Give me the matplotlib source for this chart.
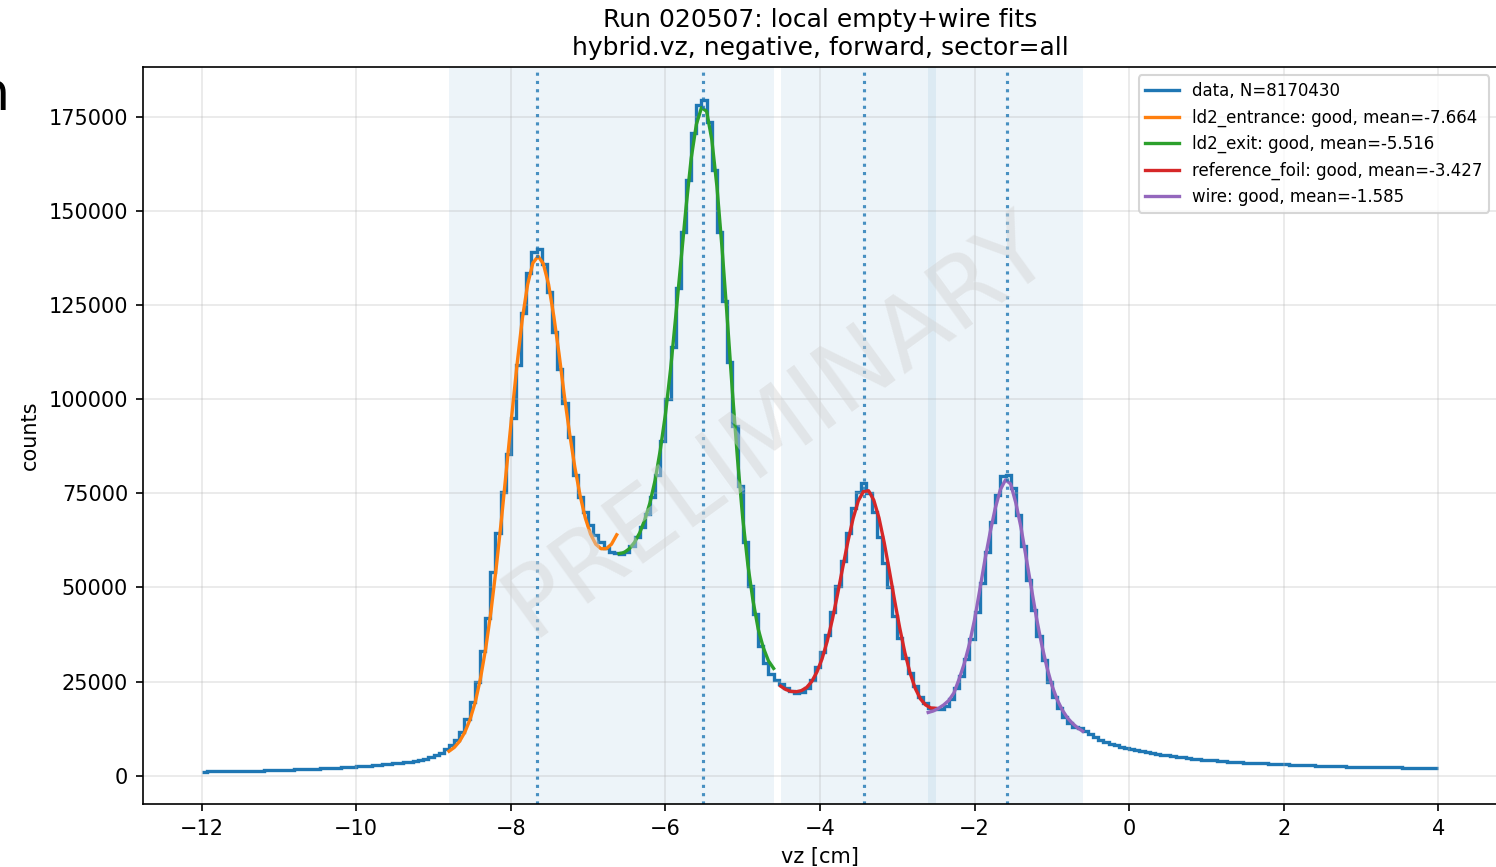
import numpy as np
import matplotlib
matplotlib.use("Agg")
import matplotlib.pyplot as plt

# histogram of hybrid.vz, 240 bins from -12 to 4 cm
vz_lo, vz_hi, n_bins = -12.0, 4.0, 240
counts = [
    1100, 1120, 1140, 1160, 1180, 1200, 1230, 1250, 1280, 1310,
    1340, 1370, 1400, 1440, 1480, 1520, 1570, 1620, 1670, 1720,
    1780, 1830, 1880, 1940, 2000, 2070, 2140, 2220, 2300, 2390,
    2480, 2570, 2670, 2780, 2900, 3020, 3150, 3280, 3420, 3570,
    3750, 3950, 4200, 4500, 4900, 5400, 6000, 7000, 8200, 9600,
    11700, 15000, 19500, 25000, 33000, 42000, 54000, 64500, 75500, 85500,
    95000, 109000, 123000, 133500, 139000, 140000, 136000, 128500, 118000, 108000,
    99000, 90000, 80000, 74000, 70000, 66500, 64000, 62000, 60500, 59500,
    59200, 59000, 59500, 61000, 63500, 66000, 69500, 74000, 80000, 89000,
    100000, 114000, 129600, 144500, 158300, 170700, 178200, 179500, 173700, 160900,
    144500, 126000, 110000, 93000, 77000, 62000, 50500, 43000, 34500, 30000,
    27000, 25500, 24300, 23300, 22500, 22100, 22200, 23300, 25500, 29000,
    32800, 37500, 43600, 50300, 57000, 64500, 71000, 75500, 77700, 75000,
    70000, 63500, 56500, 50000, 42500, 36500, 31300, 27300, 23700, 21000,
    19300, 18000, 17700, 17800, 18500, 20500, 23200, 26500, 31000, 36200,
    43600, 51100, 59500, 67500, 74600, 79500, 79900, 76400, 69300, 60900,
    52000, 44100, 37000, 30800, 25000, 21000, 18000, 15700, 13900, 13000,
    12600, 11800, 11200, 10400, 9600, 9000, 8500, 8050, 7750, 7450,
    7100, 6800, 6500, 6250, 6020, 5800, 5600, 5400, 5230, 5050,
    4900, 4750, 4550, 4400, 4280, 4150, 4050, 3950, 3850, 3750,
    3660, 3580, 3500, 3430, 3360, 3300, 3240, 3180, 3120, 3070,
    3020, 2960, 2900, 2950, 2850, 2720, 2680, 2700, 2600, 2560,
    2520, 2480, 2440, 2400, 2370, 2340, 2310, 2290, 2270, 2250,
    2240, 2230, 2220, 2050, 2030, 2010, 2000, 1990, 1980, 1970,
]
n_entries = 8170430

# local fits: name, status, mean, range used, fitted curve values
fit_names = ["ld2_entrance", "ld2_exit", "reference_foil", "wire"]
fit_status = ["good", "good", "good", "good"]
fit_means = [-7.664, -5.516, -3.427, -1.585]
fit_ranges = [(-8.8, -6.63), (-6.6, -4.6), (-4.51, -2.5), (-2.6, -0.6)]
fit_entrance = [6500, 7500, 9100, 11500, 14900, 19500, 25800, 33800, 43600, 55200,
                68000, 82000, 96000, 109500, 121500, 130500, 136200, 138000, 136000,
                130500, 122000, 112000, 101000, 91000, 82000, 74500, 68500, 64200,
                61500, 60300, 60300, 61500, 64000]
fit_exit = [59000, 59300, 60300, 62000, 64500, 68000, 72500, 78500, 86500, 96000,
            108000, 122000, 136500, 151000, 164000, 173000, 177500, 176500, 169000,
            156500, 140000, 121500, 102000, 84000, 68500, 56000, 46500, 39000,
            34000, 30500, 28500]
fit_foil = [23800, 22900, 22400, 22300, 22600, 23400, 25000, 27500, 31000, 35700,
            41500, 48200, 55300, 62200, 68300, 73000, 75500, 75700, 73200, 68500,
            62000, 54500, 46700, 39300, 32700, 27300, 23200, 20400, 18800, 18000,
            17900]
fit_wire = [16800, 17200, 17900, 18800, 20000, 22000, 25700, 29800, 35000, 41500,
            49300, 57300, 64500, 71000, 76000, 78600, 77500, 72500, 66000, 58000,
            50000, 42000, 35000, 29000, 24000, 20300, 17500, 15400, 13900, 12700,
            11800]
fit_values = [fit_entrance, fit_exit, fit_foil, fit_wire]
fit_colors = ["C1", "C2", "C3", "C4"]

# fit windows shaded in the background
windows = [(-8.8, -4.6), (-4.5, -2.5), (-2.6, -0.6)]

fig = plt.figure(figsize=(1496 / 150, 867 / 150), dpi=150)
ax = fig.add_axes([0.09539, 0.07232, 0.90548, 0.85040])

for lo, hi in windows:
    ax.axvspan(lo, hi, color="C0", alpha=0.08, lw=0)

edges = np.linspace(vz_lo, vz_hi, n_bins + 1)
ax.stairs(counts, edges, baseline=None, color="C0", lw=1.6,
          label="data, N=%d" % n_entries)

for name, status, mean, (lo, hi), vals, col in zip(fit_names, fit_status, fit_means,
                                                   fit_ranges, fit_values, fit_colors):
    xs = np.linspace(lo, hi, len(vals))
    ax.plot(xs, vals, color=col, lw=1.6,
            label="%s: %s, mean=%.3f" % (name, status, mean))
    ax.axvline(mean, color="C0", ls=":", lw=1.5, alpha=0.8)

ax.text(0.468, 0.514, "PRELIMINARY", transform=ax.transAxes, fontsize=47,
        color="lightgray", alpha=0.45, rotation=36, ha="center", va="center",
        zorder=4)

ax.set_xlim(-12.763, 4.763)
ax.set_ylim(-7600, 188280)
ax.set_xticks(np.arange(-12, 5, 2))
ax.set_yticks(np.arange(0, 175001, 25000))
ax.grid(alpha=0.3)
ax.set_xlabel("vz [cm]")
ax.set_ylabel("counts")
ax.set_title("Run 020507: local empty+wire fits\nhybrid.vz, negative, forward, sector=all")
ax.legend(loc="upper right", fontsize=8)

# edge of a neighbouring panel that shows at the left border
fig.text(0.006, 0.873, "n", fontsize=26, ha="right", va="baseline")

fig.savefig("out.png", dpi=150)
